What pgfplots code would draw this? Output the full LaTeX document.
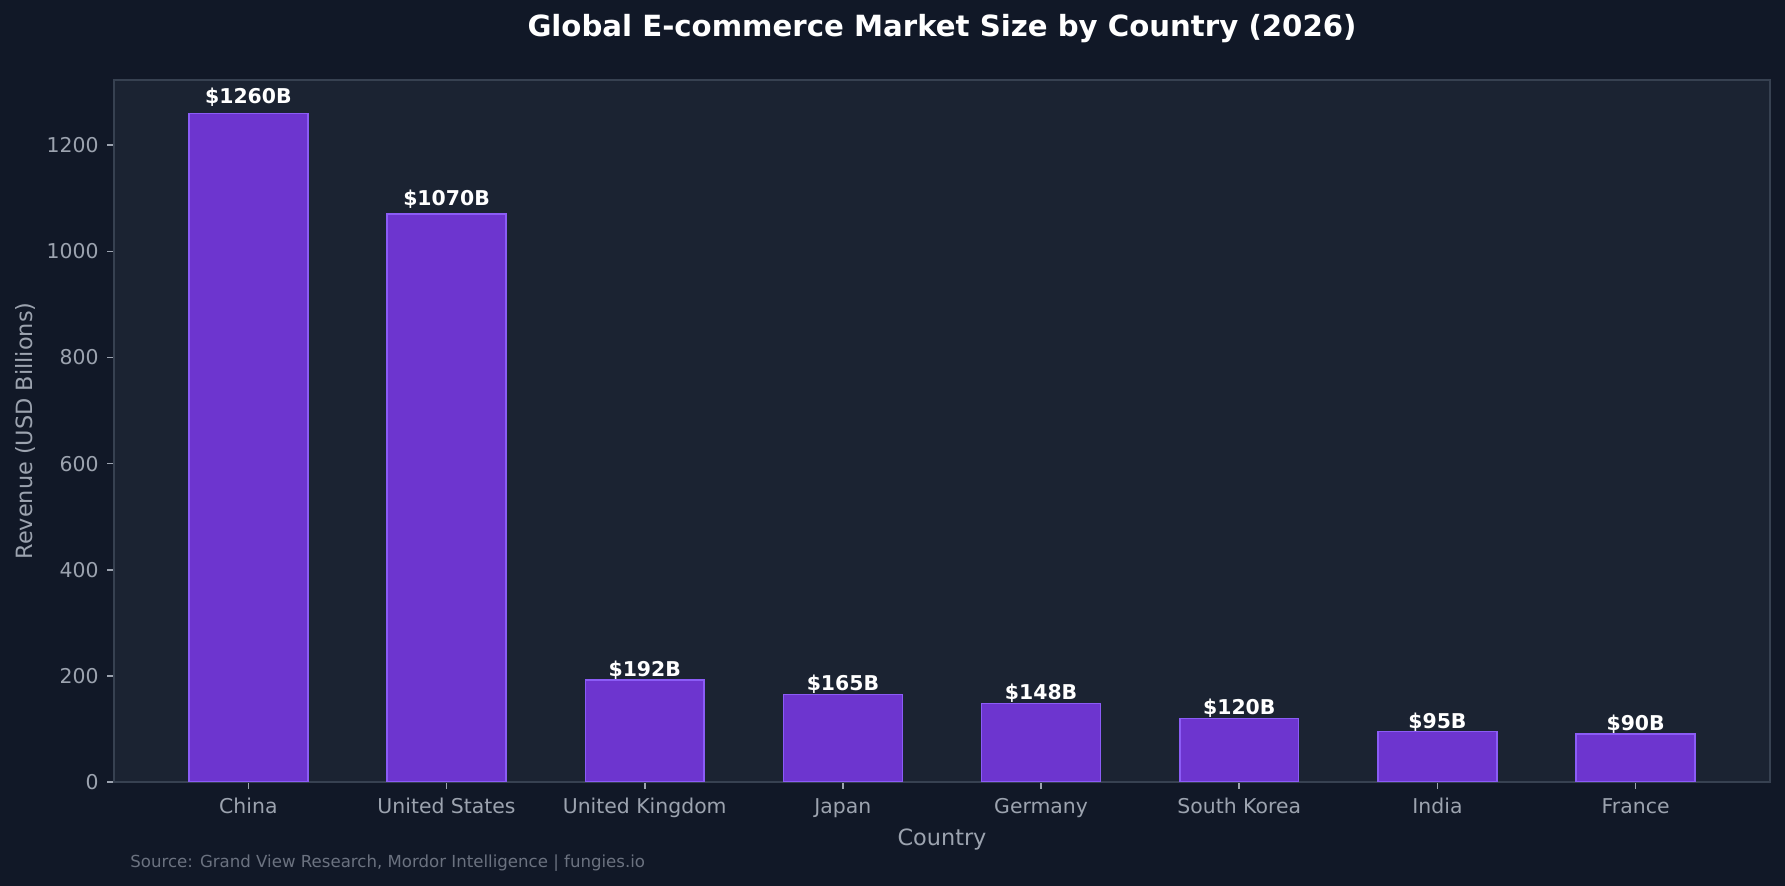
\documentclass[border=0pt]{standalone}
\usepackage{pgfplots}
\pgfplotsset{compat=1.18}
\usepackage{pgfplotstable}
\usepackage{fontspec}
\setmainfont{DejaVu Sans}
\definecolor{figbg}{HTML}{111827}
\definecolor{axbg}{HTML}{1B2332}
\definecolor{spine}{HTML}{374151}
\definecolor{barfill}{HTML}{6D35CF}
\definecolor{baredge}{HTML}{8B5CF6}
\definecolor{ticktext}{HTML}{9CA3AF}
\definecolor{srctext}{HTML}{6B7280}
\pgfplotstableread{
x y labely
0 1260 1272.6
1 1070 1080.7
2 192 193.9
3 165 166.65
4 148 149.5
5 120 121.2
6 95 95.95
7 90 90.9
}\marketdata
\begin{document}
\begin{tikzpicture}
\fill[figbg] (-57pt,-52pt) rectangle (835.5pt,391pt);
\useasboundingbox (-57pt,-52pt) rectangle (835.5pt,391pt);
\begin{axis}[
  at={(0,0)}, anchor=south west,
  width=828pt, height=351pt, scale only axis,
  xmin=-0.678, xmax=7.678,
  ymin=0, ymax=1323,
  axis background/.style={fill=axbg},
  axis line style={spine, line width=1pt},
  xtick=data,
  xticklabels={China,United States,United Kingdom,Japan,Germany,South Korea,India,France},
  ytick={0,200,400,600,800,1000,1200},
  tick align=outside,
  xtick pos=bottom, ytick pos=left,
  major tick length=3.4pt,
  tick style={ticktext, line width=0.8pt},
  /pgf/number format/assume math mode=true,
  /pgf/number format/1000 sep={},
  ticklabel style={font=\fontsize{10.2}{12}\selectfont, text=ticktext},
  yticklabel style={xshift=-0.8pt},
  xticklabel style={yshift=-1.2pt},
  xlabel={Country}, ylabel={Revenue (USD Billions)},
  every axis x label/.style={at={(axis description cs:0.5,0)}, yshift=-28.6pt, anchor=center, font=\fontsize{11.2}{13}\selectfont, text=ticktext},
  every axis y label/.style={at={(axis description cs:0,0.5)}, xshift=-44.5pt, rotate=90, anchor=center, font=\fontsize{11.2}{13}\selectfont, text=ticktext},
  title={Global E-commerce Market Size by Country (2026)},
  title style={at={(axis description cs:0.5,1)}, yshift=19.5pt, anchor=center, font=\bfseries\fontsize{14.6}{17}\selectfont, text=white},
]
\addplot[ybar, bar width=0.6, bar shift=0pt, fill=barfill, draw=baredge, line width=0.75pt] table[x=x, y=y] {\marketdata};
\addplot[draw=none, mark=none, point meta=explicit symbolic,
  nodes near coords={\$\pgfplotspointmeta B},
  every node near coord/.append style={anchor=base, yshift=1.45pt, font=\bfseries\fontsize{10.2}{12}\selectfont, text=white}]
  table[x=x, y=labely, meta=y] {\marketdata};
\end{axis}
\node[anchor=west, text=srctext, font=\fontsize{8.3}{10}\selectfont, inner sep=0pt] at (8pt,-40.4pt) {Source: Grand View Research, Mordor Intelligence | fungies.io};
\end{tikzpicture}
\end{document}
